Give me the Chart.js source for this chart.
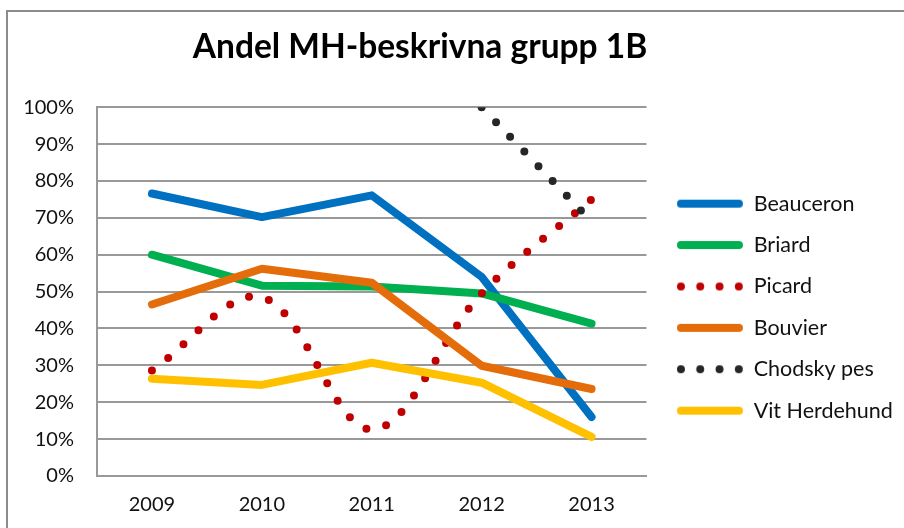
<!DOCTYPE html>
<html>
<head>
<meta charset="utf-8">
<script src="https://cdn.jsdelivr.net/npm/chart.js@4"></script>
<style>
  html, body { margin: 0; padding: 0; background: #fff; overflow: hidden; }
  #wrap { position: relative; width: 904px; height: 528px; }
  #frame {
    position: absolute; left: 6px; top: 10px; width: 1000px; height: 1000px;
    border-left: 2px solid #8c8c8c; border-top: 2px solid #8c8c8c;
    pointer-events: none;
  }
</style>
</head>
<body>
<div id="wrap">
  <canvas id="chart" width="904" height="528"></canvas>
  <div id="frame"></div>
</div>
<script>
/* ---------------- DATA ---------------- */
const years = ["2009", "2010", "2011", "2012", "2013"];

const beauceron    = [76.6, 70.2, 76.1, 54.0, 16.0];
const briard       = [60.0, 51.6, 51.4, 49.5, 41.3];
const picard       = [28.6, 48.5, 12.6, 49.5, 75.0];
const bouvier      = [46.5, 56.2, 52.4, 29.9, 23.6];
const chodskyPes   = [null, null, null, 100, 69.0];
const vitHerdehund = [26.4, 24.7, 30.7, 25.3, 10.6];

/* ---------------- STYLE HELPERS ---------------- */
const FONT = "Lato";
const GRID = "#999999";
const LINE_W = 8;

// legend swatch: a short solid or dotted line, like Excel's legend keys
function swatch(color, dotted) {
    const c = document.createElement("canvas");
    c.width = 70;
    c.height = 10;
    const g = c.getContext("2d");
    g.strokeStyle = color;
    g.fillStyle = color;
    g.lineWidth = LINE_W;
    g.lineCap = "round";
    if (dotted) {
        for (let i = 0; i < 4; i++) {
            g.beginPath();
            g.arc(4 + i * 19.3, 5, LINE_W / 2, 0, Math.PI * 2);
            g.fill();
        }
    } else {
        g.beginPath();
        g.moveTo(4, 5);
        g.lineTo(62, 5);
        g.stroke();
    }
    return c;
}

// Excel draws later series on top; in Chart.js lower "order" is drawn on top
function series(label, data, color, dotted, order) {
    return {
        label: label,
        data: data,
        borderColor: color,
        backgroundColor: color,
        borderWidth: LINE_W,
        borderCapStyle: "round",
        borderJoinStyle: "round",
        borderDash: dotted ? [0, 20.5] : [],
        tension: dotted ? 0.35 : 0,
        pointRadius: 0,
        pointHoverRadius: 0,
        pointStyle: swatch(color, dotted),
        order: order,
        clip: 0
    };
}

// put legend and title where Excel put them
const nudge = {
    id: "nudge",
    afterLayout(chart) {
        const lg = chart.legend;
        const dy = 173 - lg.top;
        lg.left = 661;
        lg.right = chart.width;
        lg.top += dy; lg.bottom += dy;

        const t = chart.titleBlock;
        const shift = 420 - (t.left + t.right) / 2;
        t.left += shift; t.right += shift;
    }
};

/* ---------------- CHART ---------------- */
const ctx = document.getElementById("chart");

new Chart(ctx, {
    type: "line",
    data: {
        labels: years,
        datasets: [
            series("Beauceron", beauceron, "#0070C0", false, 5),
            series("Briard", briard, "#00B050", false, 4),
            series("Picard", picard, "#C00000", true, 3),
            series("Bouvier", bouvier, "#E46C0A", false, 2),
            series("Chodsky pes", chodskyPes, "#262626", true, 1),
            series("Vit Herdehund", vitHerdehund, "#FFC000", false, 0)
        ]
    },
    options: {
        responsive: false,
        animation: false,
        devicePixelRatio: 1,
        layout: {
            padding: { left: 0, right: 42, top: 0, bottom: 0 }
        },
        scales: {
            x: {
                offset: true,
                grid: { display: false, drawTicks: false },
                border: { display: true, color: GRID, width: 2 },
                ticks: {
                    padding: 17,
                    color: "#111",
                    font: { family: FONT, size: 20 }
                },
                afterFit: (s) => { s.height = 52; }
            },
            y: {
                min: 0,
                max: 100,
                grid: { color: GRID, lineWidth: 2, drawTicks: false },
                border: { display: true, color: GRID, width: 2 },
                ticks: {
                    stepSize: 10,
                    padding: 23,
                    color: "#111",
                    font: { family: FONT, size: 20 },
                    callback: (v) => v + "%"
                },
                afterFit: (s) => { s.width = 97; }
            }
        },
        plugins: {
            title: {
                display: true,
                text: "Andel MH-beskrivna grupp 1B",
                color: "#000",
                font: { family: FONT, size: 33.5, weight: "bold" },
                padding: { top: 27, bottom: 40 }
            },
            legend: {
                position: "right",
                align: "start",
                labels: {
                    usePointStyle: true,
                    pointStyleWidth: 62,
                    padding: 19.9,
                    color: "#111",
                    font: { family: FONT, size: 21.5 },
                    sort: (a, b) => a.datasetIndex - b.datasetIndex
                }
            },
            tooltip: { enabled: false }
        }
    },
    plugins: [nudge]
});
</script>
</body>
</html>
